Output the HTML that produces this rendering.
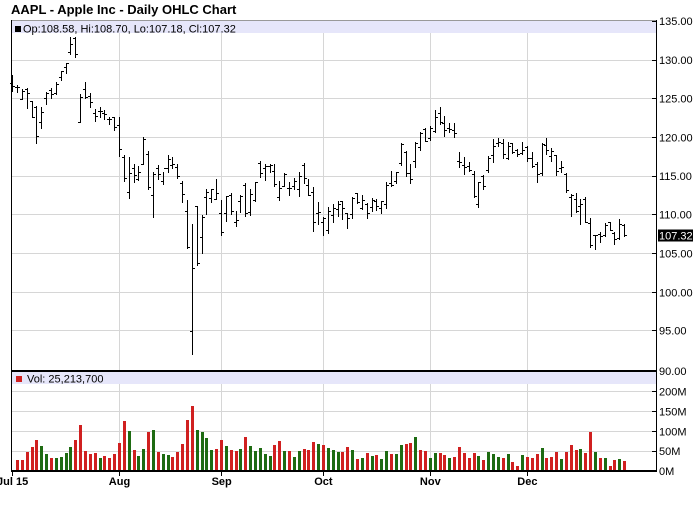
<!DOCTYPE html>
<html>
<head>
<meta charset="utf-8">
<style>
html,body{margin:0;padding:0;background:#fff;}
body{width:700px;height:512px;overflow:hidden;}
svg{display:block;}
text{font-family:"Liberation Sans",Arial,sans-serif;}
</style>
</head>
<body>
<svg width="700" height="512" viewBox="0 0 700 512" xmlns="http://www.w3.org/2000/svg">
<rect x="0" y="0" width="700" height="512" fill="#fff"/>
<text x="11" y="14" font-size="13" font-weight="bold" fill="#000">AAPL - Apple Inc - Daily OHLC Chart</text>

<!-- grid -->
<g stroke="#d6d6d6" stroke-width="1" shape-rendering="crispEdges">
<line x1="12" y1="60.5" x2="656" y2="60.5"/>
<line x1="12" y1="98.5" x2="656" y2="98.5"/>
<line x1="12" y1="137.5" x2="656" y2="137.5"/>
<line x1="12" y1="176.5" x2="656" y2="176.5"/>
<line x1="12" y1="214.5" x2="656" y2="214.5"/>
<line x1="12" y1="253.5" x2="656" y2="253.5"/>
<line x1="12" y1="292.5" x2="656" y2="292.5"/>
<line x1="12" y1="330.5" x2="656" y2="330.5"/>
<line x1="12" y1="391.5" x2="656" y2="391.5"/>
<line x1="12" y1="411.5" x2="656" y2="411.5"/>
<line x1="12" y1="431.5" x2="656" y2="431.5"/>
<line x1="12" y1="451.5" x2="656" y2="451.5"/>
<line x1="119.5" y1="33" x2="119.5" y2="370"/><line x1="119.5" y1="384" x2="119.5" y2="470"/>
<line x1="221.5" y1="33" x2="221.5" y2="370"/><line x1="221.5" y1="384" x2="221.5" y2="470"/>
<line x1="323.5" y1="33" x2="323.5" y2="370"/><line x1="323.5" y1="384" x2="323.5" y2="470"/>
<line x1="430.5" y1="33" x2="430.5" y2="370"/><line x1="430.5" y1="384" x2="430.5" y2="470"/>
<line x1="527.5" y1="33" x2="527.5" y2="370"/><line x1="527.5" y1="384" x2="527.5" y2="470"/>
</g>

<!-- bands -->
<rect x="12" y="21" width="644" height="12" fill="#e6e6fa"/>
<line x1="11" y1="20.5" x2="656" y2="20.5" stroke="#999" stroke-width="1"/>
<rect x="15" y="26" width="6" height="6" fill="#000"/>
<text x="23" y="32.5" font-size="11" fill="#000">Op:108.58, Hi:108.70, Lo:107.18, Cl:107.32</text>

<rect x="12" y="372" width="644" height="12" fill="#e6e6fa"/>
<rect x="16" y="376" width="6" height="6" fill="#d02020"/>
<text x="27" y="382.5" font-size="11" fill="#000">Vol: 25,213,700</text>

<!-- volume -->
<path fill="#d02020" shape-rendering="crispEdges" d="M16 471v-11h3v11zM21 471v-11h3v11zM26 471v-19h3v19zM31 471v-24h3v24zM35 471v-31h3v31zM50 471v-13h3v13zM74 471v-31h3v31zM79 471v-46h3v46zM84 471v-20h3v20zM89 471v-17h3v17zM94 471v-18h3v18zM103 471v-15h3v15zM108 471v-13h3v13zM113 471v-17h3v17zM118 471v-28h3v28zM123 471v-50h3v50zM133 471v-21h3v21zM147 471v-39h3v39zM157 471v-19h3v19zM171 471v-14h3v14zM176 471v-19h3v19zM181 471v-27h3v27zM186 471v-51h3v51zM191 471v-65h3v65zM215 471v-22h3v22zM220 471v-31h3v31zM230 471v-21h3v21zM235 471v-20h3v20zM244 471v-34h3v34zM273 471v-26h3v26zM278 471v-30h3v30zM288 471v-20h3v20zM303 471v-22h3v22zM307 471v-21h3v21zM312 471v-29h3v29zM322 471v-26h3v26zM341 471v-19h3v19zM346 471v-24h3v24zM356 471v-12h3v12zM366 471v-18h3v18zM375 471v-16h3v16zM390 471v-17h3v17zM405 471v-27h3v27zM409 471v-28h3v28zM419 471v-21h3v21zM424 471v-20h3v20zM439 471v-18h3v18zM443 471v-16h3v16zM453 471v-14h3v14zM458 471v-24h3v24zM463 471v-18h3v18zM468 471v-13h3v13zM473 471v-18h3v18zM482 471v-11h3v11zM502 471v-13h3v13zM511 471v-9h3v9zM516 471v-5h3v5zM526 471v-14h3v14zM531 471v-13h3v13zM536 471v-17h3v17zM545 471v-13h3v13zM550 471v-14h3v14zM555 471v-19h3v19zM565 471v-19h3v19zM570 471v-26h3v26zM575 471v-21h3v21zM584 471v-18h3v18zM589 471v-39h3v39zM599 471v-13h3v13zM609 471v-5h3v5zM613 471v-11h3v11zM623 471v-10h3v10z"/>
<path fill="#1e6b12" shape-rendering="crispEdges" d="M40 471v-25h3v25zM45 471v-17h3v17zM55 471v-13h3v13zM60 471v-14h3v14zM65 471v-18h3v18zM69 471v-24h3v24zM99 471v-13h3v13zM128 471v-40h3v40zM137 471v-15h3v15zM142 471v-22h3v22zM152 471v-41h3v41zM162 471v-17h3v17zM167 471v-16h3v16zM196 471v-41h3v41zM201 471v-39h3v39zM205 471v-33h3v33zM210 471v-21h3v21zM225 471v-25h3v25zM239 471v-22h3v22zM249 471v-25h3v25zM254 471v-20h3v20zM259 471v-23h3v23zM264 471v-17h3v17zM269 471v-15h3v15zM283 471v-20h3v20zM293 471v-14h3v14zM298 471v-20h3v20zM317 471v-27h3v27zM327 471v-23h3v23zM332 471v-21h3v21zM337 471v-19h3v19zM351 471v-21h3v21zM361 471v-13h3v13zM371 471v-15h3v15zM380 471v-12h3v12zM385 471v-20h3v20zM395 471v-17h3v17zM400 471v-26h3v26zM414 471v-34h3v34zM429 471v-13h3v13zM434 471v-18h3v18zM448 471v-13h3v13zM477 471v-15h3v15zM487 471v-19h3v19zM492 471v-17h3v17zM497 471v-14h3v14zM507 471v-17h3v17zM521 471v-16h3v16zM541 471v-23h3v23zM560 471v-12h3v12zM579 471v-22h3v22zM594 471v-19h3v19zM604 471v-13h3v13zM618 471v-12h3v12z"/>

<!-- OHLC bars -->
<path fill="none" stroke="#000" stroke-width="1" shape-rendering="crispEdges" d="M12.5 75V92M10 83.5h2M13 86.5h2M17.5 85V93M15 87.5h2M18 87.5h2M22.5 89V100M20 99.5h2M23 91.5h2M27.5 88V109M25 89.5h2M28 93.5h2M32.5 101V118M30 101.5h2M33 117.5h2M36.5 106V144M34 107.5h2M37 136.5h2M41.5 107V129M39 122.5h2M42 112.5h2M46.5 92V105M44 98.5h2M47 93.5h2M51.5 88V99M49 90.5h2M52 94.5h2M56.5 82V95M54 93.5h2M57 84.5h2M61.5 71V81M59 77.5h2M62 71.5h2M66.5 63V74M64 67.5h2M67 63.5h2M70.5 37V55M68 52.5h2M71 44.5h2M75.5 37V58M73 38.5h2M76 54.5h2M80.5 94V123M78 122.5h2M81 97.5h2M85.5 82V99M83 89.5h2M86 97.5h2M90.5 93V108M88 96.5h2M91 102.5h2M95.5 109V122M93 113.5h2M96 116.5h2M100.5 107V118M98 111.5h2M101 111.5h2M104.5 110V120M102 113.5h2M105 114.5h2M109.5 117V125M107 119.5h2M110 119.5h2M114.5 117V131M112 117.5h2M115 127.5h2M119.5 117V157M117 125.5h2M120 149.5h2M124.5 155V182M122 157.5h2M125 178.5h2M129.5 157V199M127 192.5h2M130 173.5h2M134.5 164V183M132 168.5h2M135 175.5h2M138.5 166V181M136 179.5h2M139 172.5h2M143.5 137V165M141 164.5h2M144 139.5h2M148.5 151V190M146 154.5h2M149 187.5h2M153.5 172V218M151 195.5h2M154 174.5h2M158.5 165V180M156 168.5h2M159 174.5h2M163.5 172V185M161 181.5h2M164 168.5h2M168.5 155V173M166 168.5h2M169 159.5h2M172.5 157V169M170 165.5h2M173 164.5h2M177.5 164V179M175 167.5h2M178 176.5h2M182.5 181V203M180 183.5h2M183 194.5h2M187.5 200V249M185 211.5h2M188 247.5h2M192.5 224V355M190 331.5h2M193 268.5h2M197.5 206V266M195 206.5h2M198 263.5h2M202.5 215V254M200 237.5h2M203 217.5h2M206.5 189V215M204 197.5h2M207 192.5h2M211.5 189V203M209 198.5h2M212 189.5h2M216.5 179V200M214 199.5h2M217 193.5h2M221.5 200V236M219 213.5h2M222 232.5h2M226.5 196V222M224 213.5h2M227 196.5h2M231.5 193V215M229 195.5h2M232 211.5h2M236.5 211V227M234 222.5h2M237 220.5h2M240.5 195V213M238 201.5h2M241 196.5h2M245.5 183V217M243 185.5h2M246 213.5h2M250.5 189V216M248 212.5h2M251 194.5h2M255.5 182V202M253 200.5h2M256 182.5h2M260.5 161V178M258 163.5h2M261 173.5h2M265.5 164V181M263 168.5h2M266 166.5h2M270.5 164V173M268 166.5h2M271 165.5h2M274.5 164V187M272 171.5h2M275 184.5h2M279.5 181V201M277 197.5h2M280 188.5h2M284.5 173V187M282 186.5h2M285 174.5h2M289.5 182V196M287 188.5h2M290 188.5h2M294.5 178V190M292 186.5h2M295 181.5h2M299.5 172V197M297 189.5h2M300 176.5h2M304.5 163V184M302 165.5h2M305 178.5h2M308.5 179V196M306 185.5h2M309 195.5h2M313.5 187V232M311 192.5h2M314 222.5h2M318.5 202V225M316 213.5h2M319 212.5h2M323.5 217V236M321 222.5h2M324 218.5h2M328.5 207V234M326 230.5h2M329 211.5h2M333.5 204V223M331 215.5h2M334 208.5h2M338.5 201V217M336 209.5h2M339 204.5h2M342.5 201V220M340 201.5h2M343 208.5h2M347.5 213V229M345 213.5h2M348 218.5h2M352.5 197V219M350 214.5h2M353 198.5h2M357.5 193V204M355 193.5h2M358 202.5h2M362.5 195V210M360 208.5h2M363 200.5h2M367.5 203V219M365 204.5h2M368 213.5h2M372.5 198V212M370 207.5h2M373 200.5h2M376.5 199V211M374 201.5h2M377 206.5h2M381.5 201V214M379 208.5h2M382 201.5h2M386.5 182V209M384 204.5h2M387 185.5h2M391.5 171V187M389 183.5h2M392 185.5h2M396.5 172V184M394 181.5h2M397 172.5h2M401.5 143V166M399 163.5h2M402 144.5h2M406.5 151V177M404 152.5h2M407 173.5h2M410.5 164V184M408 173.5h2M411 179.5h2M415.5 142V168M413 161.5h2M416 143.5h2M420.5 132V151M418 147.5h2M421 133.5h2M425.5 128V142M423 129.5h2M426 141.5h2M430.5 126V141M428 138.5h2M431 128.5h2M435.5 110V133M433 131.5h2M436 117.5h2M440.5 107V125M438 113.5h2M441 122.5h2M444.5 116V137M442 123.5h2M445 130.5h2M449.5 123V133M447 128.5h2M450 129.5h2M454.5 123V138M452 130.5h2M455 133.5h2M459.5 152V168M457 161.5h2M460 162.5h2M464.5 157V175M462 165.5h2M465 167.5h2M469.5 162V172M467 166.5h2M470 170.5h2M474.5 171V198M472 174.5h2M475 196.5h2M478.5 182V208M476 204.5h2M479 182.5h2M483.5 175V190M481 176.5h2M484 186.5h2M488.5 156V173M486 170.5h2M489 158.5h2M493.5 139V163M491 155.5h2M494 146.5h2M498.5 138V147M496 143.5h2M499 142.5h2M503.5 139V159M501 143.5h2M504 154.5h2M508.5 142V160M506 158.5h2M509 146.5h2M512.5 143V154M510 143.5h2M513 152.5h2M517.5 149V157M515 150.5h2M518 154.5h2M522.5 142V155M520 153.5h2M523 150.5h2M527.5 146V162M525 147.5h2M528 158.5h2M532.5 152V168M530 158.5h2M533 166.5h2M537.5 162V183M535 164.5h2M538 174.5h2M542.5 143V176M540 173.5h2M543 144.5h2M546.5 138V155M544 145.5h2M547 150.5h2M551.5 148V162M549 156.5h2M552 151.5h2M556.5 155V176M554 155.5h2M557 171.5h2M561.5 161V173M559 168.5h2M562 167.5h2M566.5 173V193M564 174.5h2M567 190.5h2M571.5 194V217M569 197.5h2M572 195.5h2M576.5 193V213M574 199.5h2M577 211.5h2M580.5 199V225M578 206.5h2M581 204.5h2M585.5 197V223M583 199.5h2M586 222.5h2M590.5 218V248M588 223.5h2M591 245.5h2M595.5 235V250M593 235.5h2M596 235.5h2M600.5 232V243M598 234.5h2M601 236.5h2M605.5 223V237M603 235.5h2M606 225.5h2M610.5 222V231M608 222.5h2M611 230.5h2M614.5 232V245M612 233.5h2M615 239.5h2M619.5 219V240M617 238.5h2M620 224.5h2M624.5 224V237M622 225.5h2M625 235.5h2"/>

<!-- frame -->
<line x1="11.5" y1="20" x2="11.5" y2="472" stroke="#000" stroke-width="1" shape-rendering="crispEdges"/>
<line x1="656.5" y1="20" x2="656.5" y2="472" stroke="#000" stroke-width="1" shape-rendering="crispEdges"/>
<rect x="11" y="370" width="646" height="2" fill="#000"/>
<rect x="11" y="470" width="646" height="2" fill="#000"/>

<!-- ticks -->
<g stroke="#000" stroke-width="1" shape-rendering="crispEdges">
<line x1="652" y1="21.5" x2="656" y2="21.5"/>
<line x1="652" y1="60.5" x2="656" y2="60.5"/>
<line x1="652" y1="98.5" x2="656" y2="98.5"/>
<line x1="652" y1="137.5" x2="656" y2="137.5"/>
<line x1="652" y1="176.5" x2="656" y2="176.5"/>
<line x1="652" y1="214.5" x2="656" y2="214.5"/>
<line x1="652" y1="253.5" x2="656" y2="253.5"/>
<line x1="652" y1="292.5" x2="656" y2="292.5"/>
<line x1="652" y1="330.5" x2="656" y2="330.5"/>
<line x1="652" y1="391.5" x2="656" y2="391.5"/>
<line x1="652" y1="411.5" x2="656" y2="411.5"/>
<line x1="652" y1="431.5" x2="656" y2="431.5"/>
<line x1="652" y1="451.5" x2="656" y2="451.5"/>
<line x1="12.5" y1="472" x2="12.5" y2="476"/>
<line x1="119.5" y1="472" x2="119.5" y2="476"/>
<line x1="221.5" y1="472" x2="221.5" y2="476"/>
<line x1="323.5" y1="472" x2="323.5" y2="476"/>
<line x1="430.5" y1="472" x2="430.5" y2="476"/>
<line x1="527.5" y1="472" x2="527.5" y2="476"/>
</g>

<!-- right axis labels -->
<g font-size="11" fill="#000">
<text x="659" y="25">135.00</text>
<text x="659" y="64">130.00</text>
<text x="659" y="102.5">125.00</text>
<text x="659" y="141.5">120.00</text>
<text x="659" y="180">115.00</text>
<text x="659" y="218.5">110.00</text>
<text x="659" y="257.5">105.00</text>
<text x="659" y="296.5">100.00</text>
<text x="659" y="334.5">95.00</text>
<text x="659" y="375">90.00</text>
<text x="659" y="395.5">200M</text>
<text x="659" y="415.5">150M</text>
<text x="659" y="435.5">100M</text>
<text x="659" y="455">50M</text>
<text x="659" y="475">0M</text>
</g>
<rect x="658" y="229.5" width="35" height="12" fill="#000"/>
<text x="659" y="239.5" font-size="11" fill="#fff">107.32</text>

<!-- x axis labels -->
<g font-size="11" font-weight="bold" fill="#000" text-anchor="middle">
<text x="12.6" y="485">Jul 15</text>
<text x="119.5" y="485">Aug</text>
<text x="221.7" y="485">Sep</text>
<text x="323.4" y="485">Oct</text>
<text x="430.3" y="485">Nov</text>
<text x="527.4" y="485">Dec</text>
</g>
</svg>
</body>
</html>
